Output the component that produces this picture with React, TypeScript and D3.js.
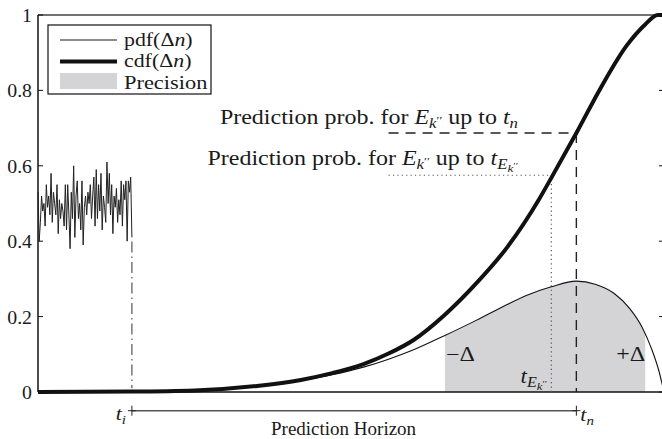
import React from "react";
import * as d3 from "d3";

// ---------- data ----------
const Y_TICKS = [0, 0.2, 0.4, 0.6, 0.8, 1];
const Y_TICK_LABELS = ["0", "0.2", "0.4", "0.6", "0.8", "1"];

// noisy pdf before t_i
const NOISE = [
  0.53, 0.40, 0.45, 0.52, 0.48, 0.50, 0.44, 0.55, 0.49, 0.52, 0.47, 0.58, 0.45, 0.53, 0.50, 0.47,
  0.55, 0.42, 0.51, 0.46, 0.50, 0.48, 0.44, 0.55, 0.43, 0.55, 0.47, 0.38, 0.53, 0.46, 0.60, 0.41,
  0.52, 0.56, 0.46, 0.50, 0.43, 0.56, 0.39, 0.49, 0.52, 0.47, 0.53, 0.50, 0.55, 0.46, 0.52, 0.57,
  0.44, 0.59, 0.46, 0.55, 0.48, 0.58, 0.43, 0.52, 0.49, 0.45, 0.61, 0.50, 0.58, 0.47, 0.55, 0.42,
  0.52, 0.49, 0.54, 0.45, 0.51, 0.47, 0.56, 0.44, 0.55, 0.51, 0.56, 0.40, 0.56, 0.53, 0.57, 0.41,
];

// pdf(Δn) after t_i : [time, value]
const PDF: [number, number][] = [
  [15, 0.002], [25, 0.005], [35, 0.016], [42, 0.031], [47, 0.046], [52, 0.066], [56, 0.087],
  [60, 0.112], [65, 0.15], [70, 0.19], [74, 0.224], [78, 0.256], [82, 0.279], [86, 0.294],
  [89, 0.286], [92, 0.262], [94.5, 0.222], [96.5, 0.172], [98, 0.115], [99.2, 0.055], [100, 0],
];

// cdf(Δn) : [time, value]
const CDF: [number, number][] = [
  [0, 0], [15, 0.001], [25, 0.004], [35, 0.016], [42, 0.032], [47, 0.05], [52, 0.074],
  [56, 0.102], [60, 0.138], [65, 0.205], [70, 0.288], [75, 0.385], [80, 0.51], [82, 0.568],
  [86, 0.687], [90, 0.81], [94, 0.918], [97, 0.975], [99, 1.0], [100, 1.0],
];

const T_I = 15;
const T_N = 86;
const T_E = 82;
const PREC_LO = 65;
const PREC_HI = 97;
const P_TN = 0.687;
const P_TE = 0.575;
const GUIDE_START = 56;
const NOISE_END_VALUE = 0.41;

// ---------- layout ----------
const W = 662;
const H = 439;
const L = 38, R = 664, TOP = 15, BOT = 392;
const FONT = "'Liberation Serif', 'Times New Roman', serif";

function T({ x, y, sx = 1.15, size = 19, anchor = "start", children, fill = "#1a1a1a" }: any) {
  return (
    <text
      transform={`translate(${x},${y}) scale(${sx},1)`}
      textAnchor={anchor}
      fontSize={size}
      fontFamily={FONT}
      fill={fill}
    >
      {children}
    </text>
  );
}

export default function App() {
  const x = d3.scaleLinear().domain([0, 100]).range([L, R]);
  const y = d3.scaleLinear().domain([0, 1]).range([BOT, TOP]);

  const noisePts: [number, number][] = NOISE.map((v, i) => [(i / (NOISE.length - 1)) * T_I, v]);
  const lineRaw = d3.line<[number, number]>().x((d) => x(d[0])).y((d) => y(d[1]));
  const lineSmooth = d3
    .line<[number, number]>()
    .x((d) => x(d[0]))
    .y((d) => y(d[1]))
    .curve(d3.curveMonotoneX);
  const areaPdf = d3
    .area<[number, number]>()
    .x((d) => x(d[0]))
    .y0(y(0))
    .y1((d) => y(d[1]))
    .curve(d3.curveMonotoneX);

  const hy = 410.7;

  return (
    <svg
      width={W}
      height={H}
      style={{ position: "absolute", left: 0, top: 0, background: "#fff" }}
    >
      <defs>
        <clipPath id="prec">
          <rect x={x(PREC_LO)} y={0} width={x(PREC_HI) - x(PREC_LO)} height={H} />
        </clipPath>
        <clipPath id="plot">
          <rect x={L} y={0} width={W - L} height={H} />
        </clipPath>
      </defs>

      {/* precision area */}
      <path d={areaPdf(PDF) || ""} fill="#d4d4d6" clipPath="url(#prec)" />

      {/* axes frame */}
      <line x1={L} x2={W} y1={TOP} y2={TOP} stroke="#444" strokeWidth={1.5} />
      <line x1={L} x2={L} y1={TOP} y2={BOT} stroke="#111" strokeWidth={1.5} />
      <line x1={L} x2={W} y1={BOT} y2={BOT} stroke="#111" strokeWidth={1.5} />
      {Y_TICKS.map((t, i) => (
        <g key={i}>
          <line x1={L} x2={L + 5} y1={y(t)} y2={y(t)} stroke="#111" strokeWidth={1} />
          <line x1={R - 5} x2={R} y1={y(t)} y2={y(t)} stroke="#111" strokeWidth={1} />
          <T x={32} y={y(t) + 7} anchor="end" sx={1.1} size={18}>
            {Y_TICK_LABELS[i]}
          </T>
        </g>
      ))}

      {/* guides */}
      <line x1={x(GUIDE_START)} x2={x(T_N)} y1={y(P_TN)} y2={y(P_TN)} stroke="#222" strokeWidth={1.4} strokeDasharray="10,7" />
      <line x1={x(T_N)} x2={x(T_N)} y1={y(P_TN)} y2={y(0)} stroke="#222" strokeWidth={1.4} strokeDasharray="10,7" />
      <line x1={x(GUIDE_START)} x2={x(T_E)} y1={y(P_TE)} y2={y(P_TE)} stroke="#555" strokeWidth={1.2} strokeDasharray="1.2,3.2" />
      <line x1={x(T_E)} x2={x(T_E)} y1={y(P_TE)} y2={y(0)} stroke="#555" strokeWidth={1.2} strokeDasharray="1.2,3.2" />
      <line x1={x(T_I)} x2={x(T_I)} y1={y(NOISE_END_VALUE) + 4} y2={y(0.01)} stroke="#555" strokeWidth={1.2} strokeDasharray="11,4,1.5,4" />

      {/* series */}
      <path d={lineRaw(noisePts) || ""} fill="none" stroke="#222" strokeWidth={1} />
      <g clipPath="url(#plot)">
        <path d={lineSmooth(PDF) || ""} fill="none" stroke="#111" strokeWidth={1.1} />
        <path d={lineSmooth(CDF) || ""} fill="none" stroke="#111" strokeWidth={4} />
      </g>

      {/* annotations */}
      <T x={518} y={123.5} anchor="end" sx={1.2} size={20}>
        Prediction prob. for <tspan fontStyle="italic">E</tspan>
        <tspan fontStyle="italic" fontSize={14} dy={4}>k</tspan>
        <tspan fontSize={11} dy={-4}>′′</tspan> up to <tspan fontStyle="italic">t</tspan>
        <tspan fontStyle="italic" fontSize={14} dy={4}>n</tspan>
      </T>
      <T x={518} y={165} anchor="end" sx={1.2} size={20}>
        Prediction prob. for <tspan fontStyle="italic">E</tspan>
        <tspan fontStyle="italic" fontSize={14} dy={4}>k</tspan>
        <tspan fontSize={11} dy={-4}>′′</tspan> up to <tspan fontStyle="italic">t</tspan>
        <tspan fontStyle="italic" fontSize={14} dy={4}>E</tspan>
        <tspan fontStyle="italic" fontSize={11} dy={3}>k</tspan>
        <tspan fontSize={9} dy={-3}>′′</tspan>
      </T>

      <T x={x(PREC_LO) + 1} y={361} size={20} sx={1.2}>−Δ</T>
      <T x={x(PREC_HI)} y={361} size={20} sx={1.2} anchor="end">+Δ</T>
      <T x={547} y={383} anchor="end" sx={1.15} size={20}>
        <tspan fontStyle="italic">t</tspan>
        <tspan fontStyle="italic" fontSize={14} dy={4}>E</tspan>
        <tspan fontStyle="italic" fontSize={11} dy={3}>k</tspan>
        <tspan fontSize={9} dy={-3}>′′</tspan>
      </T>

      {/* prediction horizon */}
      <line x1={x(T_I)} x2={x(T_N)} y1={hy} y2={hy} stroke="#555" strokeWidth={1.5} />
      {[T_I, T_N].map((t, i) => (
        <g key={i} stroke="#222" strokeWidth={1}>
          <line x1={x(t) - 4} x2={x(t) + 4} y1={hy} y2={hy} />
          <line x1={x(t)} x2={x(t)} y1={hy - 5} y2={hy + 5} />
        </g>
      ))}
      <T x={x(T_I) - 6} y={420} anchor="end">
        <tspan fontStyle="italic">t</tspan>
        <tspan fontStyle="italic" fontSize={13} dy={4}>i</tspan>
      </T>
      <T x={x(T_N) + 4} y={421}>
        <tspan fontStyle="italic">t</tspan>
        <tspan fontStyle="italic" fontSize={13} dy={4}>n</tspan>
      </T>
      <T x={271} y={435} anchor="start" sx={1.0}>
        Prediction Horizon
      </T>

      {/* legend */}
      <rect x={48} y={25} width={163} height={69} fill="#fff" stroke="#111" strokeWidth={1.2} />
      <line x1={60} x2={117} y1={40} y2={40} stroke="#666" strokeWidth={1.3} />
      <line x1={60} x2={117} y1={61.5} y2={61.5} stroke="#111" strokeWidth={4} />
      <rect x={60} y={73} width={57} height={16} fill="#d4d4d6" />
      <T x={124} y={46}>
        pdf(Δ<tspan fontStyle="italic">n</tspan>)
      </T>
      <T x={124} y={67}>
        cdf(Δ<tspan fontStyle="italic">n</tspan>)
      </T>
      <T x={124} y={88.5} sx={1.18}>
        Precision
      </T>
    </svg>
  );
}
